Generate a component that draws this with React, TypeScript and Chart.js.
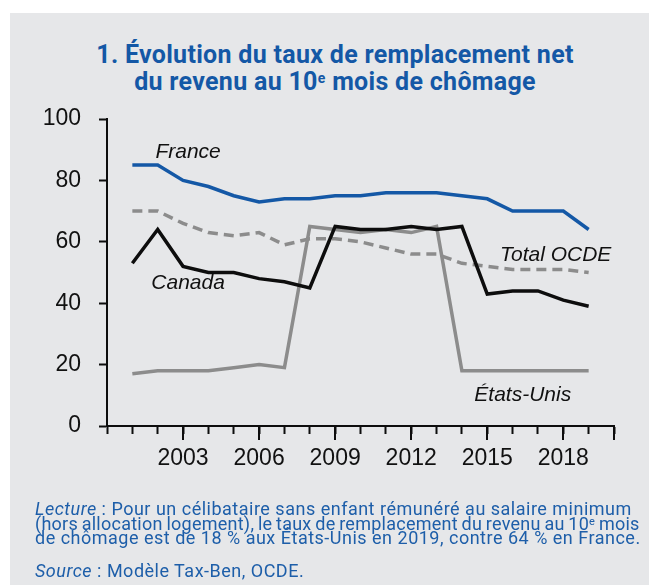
import React, { useEffect, useRef } from "react";
import { Chart, registerables } from "chart.js";

Chart.register(...registerables);

const years = [2001, 2002, 2003, 2004, 2005, 2006, 2007, 2008, 2009, 2010, 2011, 2012, 2013, 2014, 2015, 2016, 2017, 2018, 2019];
const france = [85, 85, 80, 78, 75, 73, 74, 74, 75, 75, 76, 76, 76, 75, 74, 70, 70, 70, 64];
const totalOcde = [70, 70, 66, 63, 62, 63, 59, 61, 61, 60, 58, 56, 56, 53, 52, 51, 51, 51, 50];
const canada = [53, 64, 52, 50, 50, 48, 47, 45, 65, 64, 64, 65, 64, 65, 43, 44, 44, 41, 39];
const etatsUnis = [17, 18, 18, 18, 19, 20, 19, 65, 64, 63, 64, 63, 65, 18, 18, 18, 18, 18, 18];

const xTickYears = [2000, 2001, 2002, 2003, 2004, 2005, 2006, 2007, 2008, 2009, 2010, 2011, 2012, 2013, 2014, 2015, 2016, 2017, 2018, 2019, 2020];
const xLabelYears = [2003, 2006, 2009, 2012, 2015, 2018];
const xLongTickYears = [2003, 2006, 2009, 2012, 2015, 2018, 2020];
const yTicks = [0, 20, 40, 60, 80, 100];

const seriesNames = ["France", "Total OCDE", "Canada", "États-Unis"];

const BLUE = "#1458a6";
const GREY = "#8c8c8c";
const BLACK = "#0d0d0d";
const TEXT_BLUE = "#1d5ea9";

// label anchors in data coordinates
const seriesLabelAnchors = [
  { text: seriesNames[0], x: 2003.2, y: 89.3 },
  { text: seriesNames[1], x: 2017.7, y: 55.5 },
  { text: seriesNames[2], x: 2003.2, y: 46.6 },
  { text: seriesNames[3], x: 2016.4, y: 10.1 },
];

const toPoints = (vals: number[]) => vals.map((v, i) => ({ x: years[i], y: v }));

const extrasPlugin = {
  id: "extras",
  afterDraw(chart: any) {
    const ctx = chart.ctx;
    const xs = chart.scales.x;
    const ys = chart.scales.y;
    const bottom = chart.chartArea.bottom;
    ctx.save();
    ctx.strokeStyle = BLACK;
    ctx.lineWidth = 2;
    xLongTickYears.forEach((yr) => {
      const px = Math.round(xs.getPixelForValue(yr));
      ctx.beginPath();
      ctx.moveTo(px, bottom);
      ctx.lineTo(px, bottom + 14);
      ctx.stroke();
    });
    ctx.fillStyle = "#111";
    ctx.font = "italic 21px 'Liberation Sans', Arial, sans-serif";
    ctx.textAlign = "center";
    ctx.textBaseline = "middle";
    seriesLabelAnchors.forEach((l) => {
      ctx.fillText(l.text, xs.getPixelForValue(l.x), ys.getPixelForValue(l.y));
    });
    ctx.restore();
  },
};

export default function App() {
  const canvasRef = useRef<HTMLCanvasElement | null>(null);

  useEffect(() => {
    const canvas = canvasRef.current;
    if (!canvas) return;
    const chart = new Chart(canvas, {
      type: "line",
      data: {
        datasets: [
          {
            label: seriesNames[0],
            data: toPoints(france),
            borderColor: BLUE,
            borderWidth: 3.5,
            pointRadius: 0,
            order: 0,
          },
          {
            label: seriesNames[2],
            data: toPoints(canada),
            borderColor: BLACK,
            borderWidth: 3.5,
            pointRadius: 0,
            order: 1,
          },
          {
            label: seriesNames[1],
            data: toPoints(totalOcde),
            borderColor: GREY,
            borderWidth: 3.5,
            borderDash: [10, 6],
            pointRadius: 0,
            order: 2,
          },
          {
            label: seriesNames[3],
            data: toPoints(etatsUnis),
            borderColor: GREY,
            borderWidth: 3.5,
            pointRadius: 0,
            order: 3,
          },
        ],
      },
      options: {
        animation: false,
        responsive: false,
        maintainAspectRatio: false,
        layout: { padding: { left: 0, top: 119, right: 35, bottom: 99 } },
        plugins: {
          legend: { display: false },
          tooltip: { enabled: false },
          title: { display: false },
        },
        scales: {
          x: {
            type: "linear",
            min: 2000,
            max: 2020,
            afterBuildTicks: (scale: any) => {
              scale.ticks = xTickYears.map((v) => ({ value: v }));
            },
            afterFit: (scale: any) => {
              scale.height = 60;
            },
            ticks: {
              autoSkip: false,
              maxRotation: 0,
              padding: 11,
              color: "#111",
              font: { family: "'Liberation Sans', Arial, sans-serif", size: 23 },
              callback: (v: any) => (xLabelYears.includes(Number(v)) ? String(v) : ""),
            },
            grid: {
              display: true,
              drawOnChartArea: false,
              drawTicks: true,
              tickLength: 8,
              tickWidth: 2,
              tickColor: BLACK,
            },
            border: { display: true, color: BLACK, width: 2 },
          },
          y: {
            type: "linear",
            min: 0,
            max: 100,
            afterBuildTicks: (scale: any) => {
              scale.ticks = yTicks.map((v) => ({ value: v }));
            },
            afterFit: (scale: any) => {
              scale.width = 107;
            },
            ticks: {
              padding: 18,
              color: "#111",
              font: { family: "'Liberation Sans', Arial, sans-serif", size: 23 },
            },
            grid: {
              display: true,
              drawOnChartArea: false,
              drawTicks: true,
              tickLength: 8,
              tickWidth: 2,
              tickColor: BLACK,
            },
            border: { display: true, color: BLACK, width: 2 },
          },
        },
      },
      plugins: [extrasPlugin],
    } as any);
    return () => chart.destroy();
  }, []);

  const noteFont = "'Roboto', 'Liberation Sans', sans-serif";

  return (
    <div style={{ position: "absolute", left: 0, top: 0, width: 649, height: 585, background: "#ffffff", overflow: "hidden" }}>
      <div style={{ position: "absolute", left: 10, top: 13, width: 639, height: 572, background: "#e6e7e9" }} />
      <div
        style={{
          position: "absolute",
          left: 20,
          top: 41,
          width: 630,
          textAlign: "center",
          color: BLUE,
          fontFamily: "'Roboto', 'Liberation Sans', sans-serif",
          fontWeight: 700,
          fontSize: 25,
          lineHeight: "27px",
          letterSpacing: "0.3px",
        }}
      >
        <div>1. Évolution du taux de remplacement net</div>
        <div>
          du revenu au 10<sup style={{ fontSize: 14, verticalAlign: "top", lineHeight: "20px" }}>e</sup> mois de chômage
        </div>
      </div>
      <canvas ref={canvasRef} width={649} height={585} style={{ position: "absolute", left: 0, top: 0, width: 649, height: 585 }} />
      <div style={{ position: "absolute", left: 35, top: 502, color: TEXT_BLUE, fontFamily: noteFont, fontSize: 18, lineHeight: "14.5px", whiteSpace: "nowrap", letterSpacing: "0.5px" }}>
        <div><i>Lecture</i> : Pour un célibataire sans enfant rémunéré au salaire minimum</div>
        <div style={{ letterSpacing: "0.25px", wordSpacing: "-1px" }}>
          (hors allocation logement), le taux de remplacement du revenu au 10<sup style={{ fontSize: 11, verticalAlign: "top", lineHeight: "10px" }}>e</sup> mois
        </div>
        <div>de chômage est de 18 % aux États-Unis en 2019, contre 64 % en France.</div>
      </div>
      <div style={{ position: "absolute", left: 35, top: 561, color: TEXT_BLUE, fontFamily: noteFont, fontSize: 18, lineHeight: "20px", whiteSpace: "nowrap", letterSpacing: "0.5px" }}>
        <i>Source</i> : Modèle Tax-Ben, OCDE.
      </div>
    </div>
  );
}
